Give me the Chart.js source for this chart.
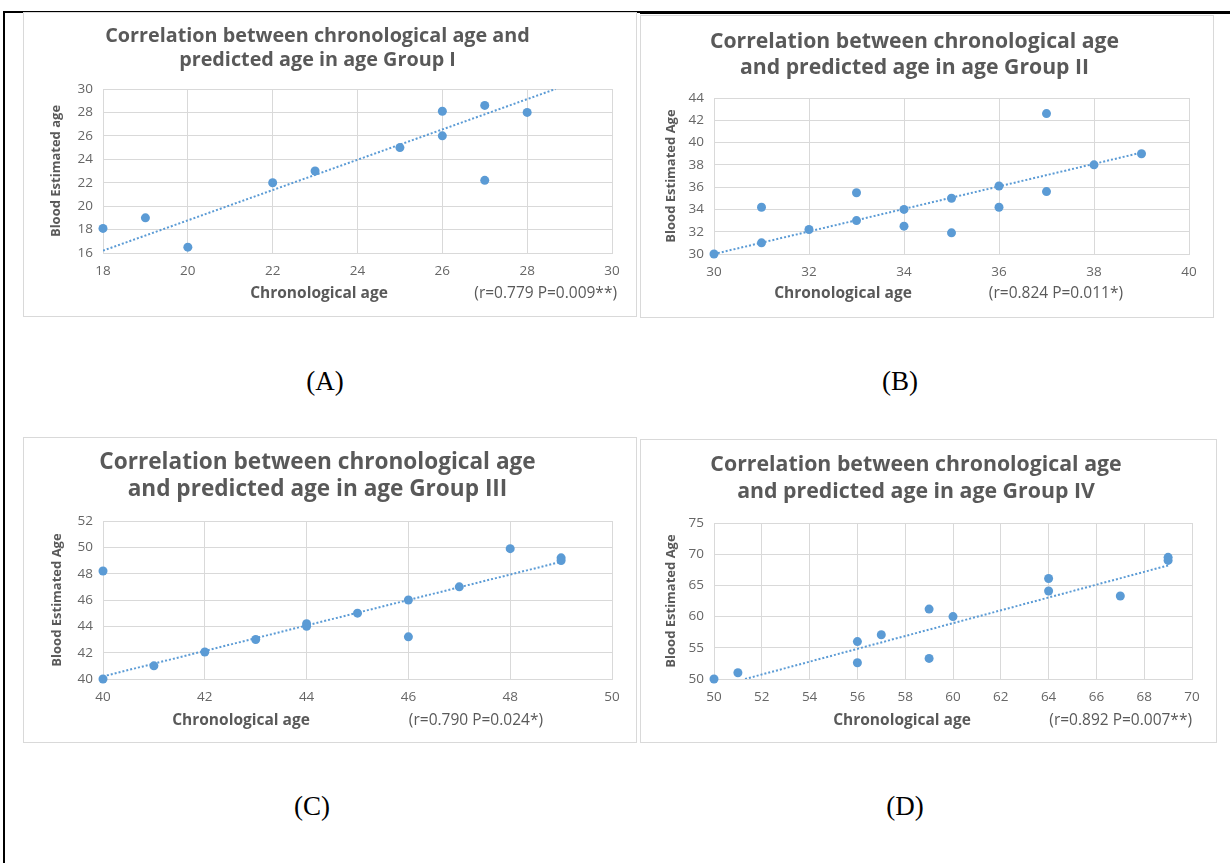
<!DOCTYPE html>
<html>
<head>
<meta charset="utf-8">
<script src="https://cdn.jsdelivr.net/npm/chart.js@4/dist/chart.umd.min.js"></script>
<style>
body { margin: 0; background: #fff; width: 1230px; height: 863px; position: relative; overflow: hidden; font-family: "Open Sans", sans-serif; }
.frame { position: absolute; background: #000; }
.panel { position: absolute; outline: 1px solid #d9d9d9; outline-offset: -1px; }
.panel canvas { position: absolute; left: 0; top: 0; }
.xt { position: absolute; font: bold 15.5px "Open Sans"; color: #595959; transform: translate(-50%, -50%); white-space: nowrap; }
.note { position: absolute; font: 15.5px "Open Sans"; color: #595959; transform: translate(-100%, -50%); white-space: nowrap; }
.lab { position: absolute; font: 27px "Liberation Serif"; color: #000; transform: translate(-50%, -50%); }
</style>
</head>
<body>
<div class="frame" style="left:3px;top:11px;width:1227px;height:2px"></div>
<div class="frame" style="left:640px;top:11px;width:590px;height:3px"></div>
<div class="frame" style="left:3px;top:11px;width:2px;height:852px"></div>

<div class="panel" id="pA" style="left:23px;top:12px;width:614px;height:305px">
  <canvas id="chartA" width="614" height="305"></canvas>
  <div class="xt" style="left:296px;top:280px">Chronological age</div>
  <div class="note" style="left:594px;top:280px">(r=0.779 P=0.009**)</div>
</div>
<div class="panel" id="pB" style="left:640px;top:15px;width:574px;height:303px">
  <canvas id="chartB" width="574" height="303"></canvas>
  <div class="xt" style="left:203px;top:277px">Chronological age</div>
  <div class="note" style="left:483px;top:277px">(r=0.824 P=0.011*)</div>
</div>
<div class="panel" id="pC" style="left:23px;top:437px;width:614px;height:306px">
  <canvas id="chartC" width="614" height="306"></canvas>
  <div class="xt" style="left:218px;top:282px">Chronological age</div>
  <div class="note" style="left:520px;top:282px">(r=0.790 P=0.024*)</div>
</div>
<div class="panel" id="pD" style="left:640px;top:439px;width:577px;height:304px">
  <canvas id="chartD" width="577" height="304"></canvas>
  <div class="xt" style="left:262px;top:280px">Chronological age</div>
  <div class="note" style="left:552px;top:280px">(r=0.892 P=0.007**)</div>
</div>

<div class="lab" style="left:325px;top:381px">(A)</div>
<div class="lab" style="left:900px;top:381px">(B)</div>
<div class="lab" style="left:312px;top:806px">(C)</div>
<div class="lab" style="left:905px;top:806px">(D)</div>

<script>
// group I
const groupIAge  = [18, 19, 20, 22, 23, 25, 26, 26, 27, 27, 28];
const groupIPred = [18.1, 19.0, 16.5, 22.0, 23.0, 25.0, 28.1, 26.0, 28.6, 22.2, 28.0];
const groupITrendAge  = [18, 28.67];
const groupITrendPred = [16.2, 30];
const groupIXTicks = [18, 20, 22, 24, 26, 28, 30];
const groupIYTicks = [16, 18, 20, 22, 24, 26, 28, 30];

// group II
const groupIIAge  = [30, 31, 31, 32, 33, 33, 34, 34, 35, 35, 36, 36, 37, 37, 38, 39];
const groupIIPred = [30.0, 34.2, 31.0, 32.2, 35.5, 33.0, 34.0, 32.5, 35.0, 31.9, 36.1, 34.2, 42.6, 35.6, 38.0, 39.0];
const groupIITrendAge  = [30, 39];
const groupIITrendPred = [30.0, 39.1];
const groupIIXTicks = [30, 32, 34, 36, 38, 40];
const groupIIYTicks = [30, 32, 34, 36, 38, 40, 42, 44];

// group III
const groupIIIAge  = [40, 40, 41, 42, 43, 44, 44, 45, 46, 46, 47, 48, 49, 49];
const groupIIIPred = [40.0, 48.2, 41.0, 42.05, 43.0, 44.0, 44.2, 45.0, 46.0, 43.2, 47.0, 49.9, 49.2, 49.0];
const groupIIITrendAge  = [40, 49];
const groupIIITrendPred = [40.2, 48.9];
const groupIIIXTicks = [40, 42, 44, 46, 48, 50];
const groupIIIYTicks = [40, 42, 44, 46, 48, 50, 52];

// group IV
const groupIVAge  = [50, 51, 56, 56, 57, 59, 59, 60, 64, 64, 67, 69, 69];
const groupIVPred = [50.0, 51.0, 56.0, 52.6, 57.1, 61.2, 53.3, 60.0, 66.1, 64.1, 63.3, 69.5, 69.0];
const groupIVTrendAge  = [51.3, 69];
const groupIVTrendPred = [50, 68.2];
const groupIVXTicks = [50, 52, 54, 56, 58, 60, 62, 64, 66, 68, 70];
const groupIVYTicks = [50, 55, 60, 65, 70, 75];

const BLUE = "#5b9bd5";
const GRID = "#d9d9d9";
const TEXT = "#595959";
const FONT = "Open Sans";

function pairs(xs, ys) {
    return xs.map((x, i) => ({ x: x, y: ys[i] }));
}

function drawPanel(id, cfg) {
    new Chart(document.getElementById(id), {
        type: "scatter",
        data: {
            datasets: [{
                data: pairs(cfg.age, cfg.pred),
                backgroundColor: BLUE,
                borderColor: BLUE,
                borderWidth: 0,
                pointRadius: 4.5,
                clip: false
            }, {
                data: pairs(cfg.trendAge, cfg.trendPred),
                showLine: true,
                pointRadius: 0,
                borderColor: BLUE,
                borderWidth: 2,
                borderDash: [2, 2]
            }]
        },
        options: {
            responsive: false,
            animation: false,
            devicePixelRatio: 1,
            layout: { padding: { left: 0, right: 25, top: 0, bottom: 0 } },
            plugins: {
                legend: { display: false },
                tooltip: { enabled: false },
                title: {
                    display: true,
                    text: cfg.title,
                    color: TEXT,
                    font: { family: FONT, size: cfg.titleSize, weight: "bold", lineHeight: cfg.titleLine / cfg.titleSize },
                    padding: { top: cfg.titleTop, bottom: cfg.titleBottom }
                }
            },
            scales: {
                x: {
                    type: "linear",
                    min: cfg.xTicks[0],
                    max: cfg.xTicks[cfg.xTicks.length - 1],
                    afterBuildTicks: s => { s.ticks = cfg.xTicks.map(v => ({ value: v })); },
                    afterFit: s => { s.height = cfg.xHeight; },
                    grid: { color: GRID, drawTicks: false },
                    border: { color: GRID },
                    ticks: { color: "#666", padding: 10, font: { family: FONT, size: 13.5 } }
                },
                y: {
                    type: "linear",
                    min: cfg.yTicks[0],
                    max: cfg.yTicks[cfg.yTicks.length - 1],
                    afterBuildTicks: s => { s.ticks = cfg.yTicks.map(v => ({ value: v })); },
                    afterFit: s => { s.width = cfg.yWidth; },
                    grid: { color: GRID, drawTicks: false },
                    border: { color: GRID },
                    ticks: { color: "#666", padding: 10, font: { family: FONT, size: 13.5 } },
                    title: {
                        display: true,
                        text: cfg.yTitle,
                        color: TEXT,
                        font: { family: FONT, size: 13, weight: "bold" },
                        padding: { top: cfg.yTitleTop, bottom: 0 }
                    }
                }
            }
        }
    });
}

document.addEventListener("DOMContentLoaded", () => {

    drawPanel("chartA", {
        age: groupIAge, pred: groupIPred, trendAge: groupITrendAge, trendPred: groupITrendPred,
        xTicks: groupIXTicks, yTicks: groupIYTicks,
        title: ["Correlation between chronological age and", "predicted age in age Group I"],
        titleSize: 19.8, titleLine: 24, titleTop: 12, titleBottom: 17,
        yTitle: "Blood Estimated age", yTitleTop: 25, yWidth: 80, xHeight: 64
    });

    drawPanel("chartB", {
        age: groupIIAge, pred: groupIIPred, trendAge: groupIITrendAge, trendPred: groupIITrendPred,
        xTicks: groupIIXTicks, yTicks: groupIIYTicks,
        title: ["Correlation between chronological age", "and predicted age in age Group II"],
        titleSize: 21.2, titleLine: 26, titleTop: 14, titleBottom: 17,
        yTitle: "Blood Estimated Age", yTitleTop: 23, yWidth: 74, xHeight: 64
    });

    drawPanel("chartC", {
        age: groupIIIAge, pred: groupIIIPred, trendAge: groupIIITrendAge, trendPred: groupIIITrendPred,
        xTicks: groupIIIXTicks, yTicks: groupIIIYTicks,
        title: ["Correlation between chronological age", "and predicted age in age Group III"],
        titleSize: 22.6, titleLine: 27, titleTop: 12.5, titleBottom: 17.5,
        yTitle: "Blood Estimated Age", yTitleTop: 26, yWidth: 80, xHeight: 64
    });

    drawPanel("chartD", {
        age: groupIVAge, pred: groupIVPred, trendAge: groupIVTrendAge, trendPred: groupIVTrendPred,
        xTicks: groupIVXTicks, yTicks: groupIVYTicks,
        title: ["Correlation between chronological age", "and predicted age in age Group IV"],
        titleSize: 21.3, titleLine: 27, titleTop: 12, titleBottom: 18,
        yTitle: "Blood Estimated Age", yTitleTop: 23, yWidth: 74, xHeight: 64
    });

});
</script>
</body>
</html>
